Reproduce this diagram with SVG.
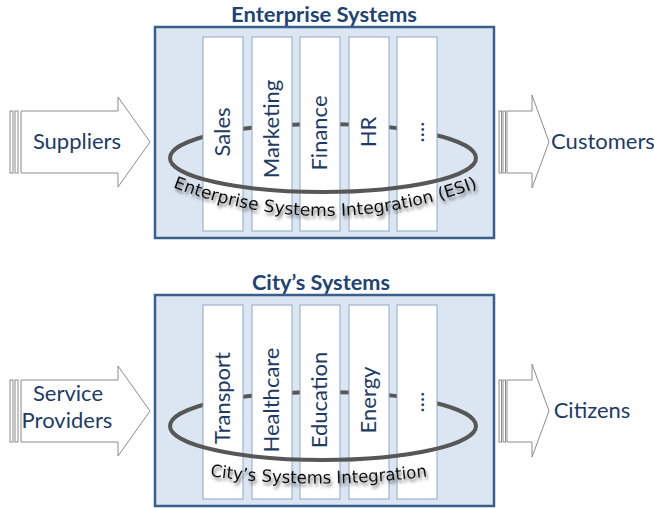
<svg xmlns="http://www.w3.org/2000/svg" width="654" height="508" viewBox="0 0 654 508">
<defs>
<style>
.box{fill:#DCE6F2;stroke:#3A5F8C;stroke-width:2.5}
.col{fill:#FFFFFF;stroke:#8FA8C6;stroke-width:1}
.ring{fill:none;stroke:#575757;stroke-width:4}
.arr{fill:#FFFFFF;stroke:#8C8C8C;stroke-width:1}
.title{font-family:Lato,"Liberation Sans",sans-serif;font-weight:bold;font-size:20px;fill:#1F4470;text-anchor:middle}
.lbl{font-family:Lato,"Liberation Sans",sans-serif;font-size:22px;fill:#1F3B63;text-anchor:middle}
.vlbl{font-family:Lato,"Liberation Sans",sans-serif;font-size:22px;fill:#1F3B63;text-anchor:middle}
.hand{font-family:"Comic Sans MS","DejaVu Sans Condensed","DejaVu Sans",sans-serif;font-size:17px;fill:#111111;filter:url(#sh)}
</style>
<filter id="sh" x="-10%" y="-50%" width="120%" height="220%">
<feDropShadow dx="1.5" dy="3" stdDeviation="1.8" flood-color="#444" flood-opacity="0.75"/>
</filter>
<path id="esiPath" d="M170,186 Q323,246 482,186"/>
<path id="csiPath" d="M208,476 Q318,491 432,476"/>
</defs>

<!-- Top: Enterprise -->
<g id="enterprise-systems">
<text class="title" x="324" y="22" textLength="186" lengthAdjust="spacingAndGlyphs">Enterprise Systems</text>
<rect class="box" x="155" y="27" width="339" height="211"/>
<path class="ring" d="M170,158 A153,34 0 0 1 476,158"/>
</g>
<g id="sales"><rect class="col" x="203" y="37" width="40" height="194"/><text class="vlbl" transform="translate(230,132) rotate(-90)">Sales</text></g>
<g id="marketing"><rect class="col" x="252" y="37" width="40" height="194"/><text class="vlbl" transform="translate(279,129) rotate(-90)">Marketing</text></g>
<g id="finance"><rect class="col" x="300" y="37" width="40" height="194"/><text class="vlbl" transform="translate(327,133) rotate(-90)">Finance</text></g>
<g id="hr"><rect class="col" x="349" y="37" width="40" height="194"/><text class="vlbl" transform="translate(376,132) rotate(-90)">HR</text></g>
<g id="more-top"><rect class="col" x="397" y="37" width="40" height="194"/><text class="vlbl" transform="translate(424,132) rotate(-90)">....</text></g>
<g id="esi">
<path class="ring" d="M476,158 A153,34 0 0 1 170,158"/>
<text class="hand"><textPath href="#esiPath" startOffset="3" textLength="312" lengthAdjust="spacingAndGlyphs">Enterprise Systems Integration (ESI)</textPath></text>
</g>

<!-- Bottom: City -->
<g id="city-systems">
<text class="title" x="321" y="290" textLength="138" lengthAdjust="spacingAndGlyphs">City’s Systems</text>
<rect class="box" x="155" y="295" width="339" height="211"/>
<path class="ring" d="M170,426 A153,34 0 0 1 476,426"/>
</g>
<g id="transport"><rect class="col" x="203" y="305" width="40" height="194"/><text class="vlbl" transform="translate(230,398) rotate(-90)">Transport</text></g>
<g id="healthcare"><rect class="col" x="252" y="305" width="40" height="194"/><text class="vlbl" transform="translate(279,400) rotate(-90)">Healthcare</text></g>
<g id="education"><rect class="col" x="300" y="305" width="40" height="194"/><text class="vlbl" transform="translate(327,400) rotate(-90)">Education</text></g>
<g id="energy"><rect class="col" x="349" y="305" width="40" height="194"/><text class="vlbl" transform="translate(376,400) rotate(-90)">Energy</text></g>
<g id="more-bottom"><rect class="col" x="397" y="305" width="40" height="194"/><text class="vlbl" transform="translate(424,402) rotate(-90)">....</text></g>
<g id="csi">
<path class="ring" d="M476,426 A153,34 0 0 1 170,426"/>
<text class="hand" font-size="17"><textPath href="#csiPath" startOffset="2" textLength="218" lengthAdjust="spacingAndGlyphs">City’s Systems Integration</textPath></text>
</g>

<!-- Block arrows -->
<g id="connectors">
<g id="arrow-suppliers">
<rect class="arr" x="10" y="111" width="3" height="62"/>
<rect class="arr" x="15" y="111" width="3" height="62"/>
<polygon class="arr" points="21,111 118,111 118,97 150,142 118,187 118,173 21,173"/>
</g>
<g id="arrow-customers">
<rect class="arr" x="499" y="111" width="2.5" height="62"/>
<rect class="arr" x="503" y="111" width="2.5" height="62"/>
<polygon class="arr" points="507,111 532,111 532,95 549,142 532,188 532,173 507,173"/>
</g>
<g id="arrow-providers">
<rect class="arr" x="10" y="380" width="3" height="62"/>
<rect class="arr" x="15" y="380" width="3" height="62"/>
<polygon class="arr" points="21,380 118,380 118,366 150,411 118,456 118,442 21,442"/>
</g>
<g id="arrow-citizens">
<rect class="arr" x="499" y="380" width="2.5" height="62"/>
<rect class="arr" x="503" y="380" width="2.5" height="62"/>
<polygon class="arr" points="507,380 532,380 532,364 549,411 532,457 532,442 507,442"/>
</g>
</g>

<g id="suppliers"><text class="lbl" x="77" y="149">Suppliers</text></g>
<g id="customers"><text class="lbl" x="603" y="149">Customers</text></g>
<g id="service-providers"><text class="lbl" x="68" y="401">Service</text><text class="lbl" x="67" y="428">Providers</text></g>
<g id="citizens"><text class="lbl" x="592" y="418">Citizens</text></g>
</svg>
